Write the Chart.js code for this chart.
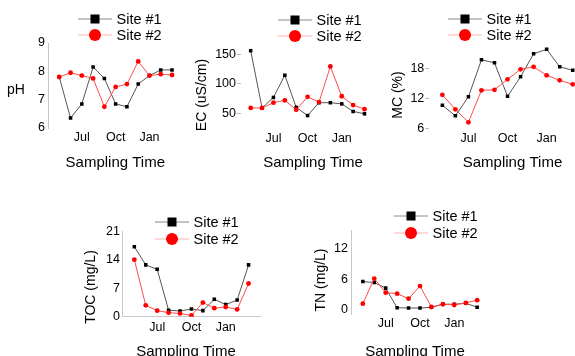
<!DOCTYPE html>
<html>
<head>
<meta charset="utf-8">
<script src="https://cdn.jsdelivr.net/npm/chart.js@4.4.1/dist/chart.umd.min.js"></script>
<style>
  html, body { margin: 0; padding: 0; background: #fff; overflow: hidden; }
  #wrap { position: relative; width: 575px; height: 356px; overflow: hidden; }
  #wrap canvas { position: absolute; left: 0; top: 0; }
</style>
</head>
<body>
<div id="wrap">
  <canvas id="c1" width="620" height="356"></canvas>
  <canvas id="c2" width="620" height="356"></canvas>
  <canvas id="c3" width="620" height="356"></canvas>
  <canvas id="c4" width="620" height="356"></canvas>
  <canvas id="c5" width="620" height="356"></canvas>
</div>
<script>
// sampling months and the ones labelled on the x axis
var months = ['May', 'Jun', 'Jul', 'Aug', 'Sep', 'Oct', 'Nov', 'Dec', 'Jan', 'Feb', 'Mar'];
var monthTicks = ['Jul', 'Oct', 'Jan'];
var seriesNames = ['Site #1', 'Site #2'];

// values
var phSite1 = [7.8, 6.35, 6.85, 8.15, 7.75, 6.85, 6.75, 7.55, 7.85, 8.05, 8.05];
var phSite2 = [7.8, 7.95, 7.85, 7.75, 6.75, 7.45, 7.55, 8.35, 7.85, 7.9, 7.87];
var phTicks = [6, 7, 8, 9];

var ecSite1 = [157, 59, 77, 115, 60, 46, 68, 68, 66, 53, 49];
var ecSite2 = [59, 59, 68, 72, 56, 78, 69, 130, 79, 64, 57];
var ecTicks = [50, 100, 150];

var mcSite1 = [10.6, 8.5, 12.3, 19.7, 19.1, 12.4, 16.3, 20.9, 21.8, 18.3, 17.6];
var mcSite2 = [12.7, 9.8, 7.2, 13.6, 13.7, 15.8, 17.8, 18.3, 16.6, 15.6, 14.8];
var mcTicks = [6, 12, 18];

var tocSite1 = [17.3, 12.8, 11.7, 1.6, 1.4, 1.9, 1.5, 4.3, 3.0, 4.1, 12.8];
var tocSite2 = [14.1, 2.8, 1.5, 1.0, 0.8, 0.3, 3.5, 2.1, 2.4, 1.8, 8.2];
var tocTicks = [0, 7, 14, 21];

var tnSite1 = [5.5, 5.3, 4.2, 0.3, 0.25, 0.25, 0.4, 1.0, 1.0, 1.2, 0.4];
var tnSite2 = [1.1, 6.1, 3.3, 3.1, 2.1, 4.6, 0.45, 1.0, 0.85, 1.25, 1.8];
var tnTicks = [0, 6, 12];

var FONT = '"Liberation Sans", Arial, sans-serif';
Chart.defaults.font.family = FONT;
Chart.defaults.color = '#000';

// legend box and axis titles, drawn where the figure has them
var panelText = {
  id: 'panelText',
  afterDraw: function(chart, args, o) {
    var ctx = chart.ctx;
    ctx.save();
    chart.data.datasets.forEach(function(d, i) {
      var mx = o.legend[0], y = o.legend[1] + i * o.legendGap;
      ctx.strokeStyle = d.legendLine;
      ctx.lineWidth = 1;
      ctx.beginPath();
      ctx.moveTo(mx - 17, y);
      ctx.lineTo(mx + 17, y);
      ctx.stroke();
      ctx.fillStyle = d.pointBackgroundColor;
      if (d.pointStyle === 'rect') {
        ctx.fillRect(mx - 4.5, y - 4.5, 9, 9);
      } else {
        ctx.beginPath();
        ctx.arc(mx, y, 6, 0, Math.PI * 2);
        ctx.fill();
      }
      ctx.fillStyle = '#000';
      ctx.font = '14.5px ' + FONT;
      ctx.textAlign = 'left';
      ctx.textBaseline = 'middle';
      ctx.fillText(d.label, mx + 21.5, y + 0.5);
    });

    ctx.fillStyle = '#000';
    ctx.font = '14px ' + FONT;
    ctx.textAlign = 'center';
    ctx.textBaseline = 'middle';
    ctx.save();
    ctx.translate(o.yTitle[0], o.yTitle[1]);
    if (o.rotate) ctx.rotate(-Math.PI / 2);
    ctx.fillText(o.yText, 0, 0);
    ctx.restore();

    ctx.font = '15px ' + FONT;
    ctx.textBaseline = 'alphabetic';
    ctx.fillText('Sampling Time', o.xTitle[0], o.xTitle[1]);
    ctx.restore();
  }
};

function toPoints(arr) {
  return arr.map(function(v, i) { return { x: i, y: v }; });
}

function panel(id, s1, s2, yTicks, g) {
  var a = g.area; // left, right, top, bottom of the plot area
  new Chart(document.getElementById(id), {
    type: 'line',
    data: {
      datasets: [{
        label: seriesNames[0],
        data: toPoints(s1),
        order: 1,
        borderColor: '#555',
        borderWidth: 1,
        pointStyle: 'rect',
        pointRadius: 2.5,
        pointBackgroundColor: '#000',
        pointBorderWidth: 0,
        legendLine: '#8a8a8a'
      }, {
        label: seriesNames[1],
        data: toPoints(s2),
        order: 0,
        borderColor: '#ff4a4a',
        borderWidth: 1,
        pointStyle: 'circle',
        pointRadius: 2.4,
        pointBackgroundColor: '#ff0000',
        pointBorderWidth: 0,
        legendLine: '#ffb0b0'
      }]
    },
    options: {
      responsive: false,
      animation: false,
      events: [],
      layout: { padding: { left: a[0] - 30, right: 620 - a[1], top: a[2], bottom: 356 - a[3] - 20 } },
      scales: {
        x: {
          type: 'linear',
          min: g.x[0],
          max: g.x[1],
          afterFit: function(s) { s.height = 20; },
          afterBuildTicks: function(s) {
            s.ticks = monthTicks.map(function(m) { return { value: months.indexOf(m) }; });
          },
          ticks: {
            callback: function(v) { return months[v]; },
            padding: g.xPad,
            font: { size: 12.5 },
            color: '#000',
            maxRotation: 0,
            autoSkip: false
          },
          grid: { display: false, drawTicks: false },
          border: { display: g.xLine, color: '#c8c8c8' }
        },
        y: {
          type: 'linear',
          min: g.y[0],
          max: g.y[1],
          afterFit: function(s) { s.width = 30; },
          afterBuildTicks: function(s) {
            s.ticks = yTicks.map(function(v) { return { value: v }; });
          },
          ticks: { padding: g.yPad, font: { size: 12.5 }, color: '#000' },
          grid: { display: true, drawOnChartArea: false, drawTicks: g.tick > 0, tickLength: g.tick, color: '#bbb' },
          border: { display: g.yLine, color: '#c8c8c8' }
        }
      },
      plugins: {
        legend: { display: false },
        tooltip: { enabled: false },
        panelText: {
          legend: g.legend,
          legendGap: g.legendGap,
          yText: g.yText,
          yTitle: g.yTitle,
          rotate: g.rotate,
          xTitle: g.xTitle
        }
      }
    },
    plugins: [panelText]
  });
}

panel('c1', phSite1, phSite2, phTicks, {
  area: [48, 183.3, 43, 128], x: [-1, 11], y: [6, 9],
  xPad: 2, yPad: 3, tick: 0, yLine: true, xLine: false,
  legend: [95, 19], legendGap: 16,
  yText: 'pH', yTitle: [16, 90], rotate: false, xTitle: [115.3, 167]
});

panel('c2', ecSite1, ecSite2, ecTicks, {
  area: [241, 385, 46, 129], x: [-0.85, 11.8], y: [23, 165],
  xPad: 2, yPad: 1, tick: 4, yLine: false, xLine: false,
  legend: [295, 20], legendGap: 16,
  yText: 'EC (uS/cm)', yTitle: [202, 95], rotate: true, xTitle: [313, 167]
});

panel('c3', mcSite1, mcSite2, mcTicks, {
  area: [429.3, 596.2, 43.3, 129.3], x: [-1, 11.8], y: [5.8, 23],
  xPad: 2, yPad: 1, tick: 4, yLine: false, xLine: false,
  legend: [465, 19], legendGap: 16,
  yText: 'MC (%)', yTitle: [398, 95], rotate: true, xTitle: [512.5, 167]
});

panel('c4', tocSite1, tocSite2, tocTicks, {
  area: [122.9, 260, 231.7, 316.7], x: [-1, 11], y: [0, 21],
  xPad: 3, yPad: 3, tick: 0, yLine: true, xLine: true,
  legend: [172, 222], legendGap: 17,
  yText: 'TOC (mg/L)', yTitle: [91, 287], rotate: true, xTitle: [186, 356]
});

panel('c5', tnSite1, tnSite2, tnTicks, {
  area: [351.4, 488.6, 230.2, 314.3], x: [-1, 11], y: [-1, 15.7],
  xPad: 2, yPad: 3.5, tick: 0, yLine: true, xLine: false,
  legend: [411, 216], legendGap: 17,
  yText: 'TN (mg/L)', yTitle: [321, 280], rotate: true, xTitle: [415, 356]
});
</script>
</body>
</html>
